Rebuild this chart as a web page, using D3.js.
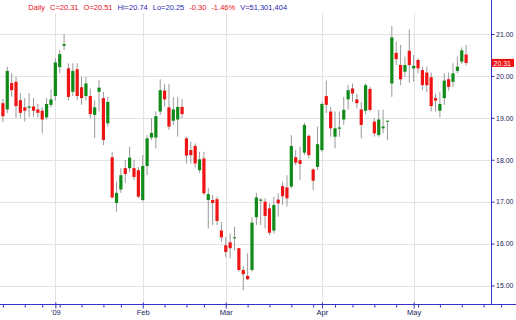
<!DOCTYPE html>
<html>
<head>
<meta charset="utf-8">
<script src="https://cdn.jsdelivr.net/npm/d3@7"></script>
<style>
  html, body { margin: 0; padding: 0; background: #fff; }
  svg { display: block; font-family: "Liberation Sans", Arial, sans-serif; }
</style>
</head>
<body>
<svg id="chart" width="516" height="320"></svg>
<script>
// daily bars, 15 Dec 2008 .. 19 May 2009
const OPEN = [19.35, 19.20, 19.83, 19.86, 19.42, 19.25, 19.24, 19.27, 19.20, 19.17,
  19.01, 19.31, 19.52, 20.21, 20.72, 20.18, 19.62, 20.16, 19.73, 19.52,
  19.52, 19.07, 19.62, 19.47, 18.87, 18.06, 16.97, 17.29, 17.80, 17.80,
  17.80, 17.75, 17.04, 17.85, 18.53, 18.53, 19.15, 19.65, 19.25, 18.93,
  18.96, 19.26, 18.51, 18.23, 18.33, 17.75, 18.03, 17.04, 17.04, 17.06,
  16.31, 15.96, 16.03, 16.13, 15.89, 15.37, 15.23, 15.37, 16.63, 17.02,
  17.00, 16.84, 16.31, 17.05, 17.37, 17.34, 17.36, 18.06, 17.99, 18.17,
  18.57, 17.77, 17.83, 18.23, 19.52, 19.15, 18.55, 18.74, 18.96, 19.44,
  19.70, 19.44, 19.20, 19.17, 19.69, 18.91, 18.59, 18.75, 18.91, 19.82,
  20.55, 20.26, 20.10, 20.60, 20.18, 20.38, 20.14, 20.08, 19.97, 19.47,
  19.17, 19.47, 19.92, 19.86, 20.12, 20.34, 20.51]
const HIGH = [19.45, 20.22, 20.07, 19.98, 19.59, 19.47, 19.59, 19.47, 19.33, 19.25,
  19.47, 19.68, 20.42, 20.62, 21.00, 20.30, 20.30, 20.30, 19.98, 19.98,
  19.70, 19.42, 19.90, 19.62, 19.50, 18.19, 17.48, 17.80, 17.99, 18.31,
  17.99, 17.83, 18.11, 18.59, 18.99, 19.15, 19.92, 19.81, 19.81, 19.50,
  19.50, 19.44, 18.55, 18.43, 18.39, 18.19, 18.19, 17.32, 17.16, 17.12,
  16.52, 16.16, 16.24, 16.40, 15.89, 15.46, 15.77, 16.63, 17.21, 17.08,
  17.08, 16.96, 17.12, 17.20, 17.47, 17.63, 18.59, 18.23, 18.31, 18.88,
  18.61, 17.79, 18.79, 19.38, 19.89, 19.26, 19.15, 19.15, 19.50, 19.78,
  19.82, 19.57, 19.38, 19.82, 19.74, 18.99, 19.19, 19.20, 18.93, 21.19,
  20.82, 20.74, 20.46, 21.11, 20.50, 20.42, 20.22, 20.22, 20.08, 19.58,
  19.62, 20.06, 20.08, 20.30, 20.46, 20.68, 20.74]
const LOW = [18.90, 19.11, 19.50, 19.00, 19.00, 18.91, 19.02, 19.03, 19.01, 18.63,
  18.96, 19.25, 19.41, 20.06, 20.62, 19.41, 19.52, 19.42, 19.31, 19.42,
  18.99, 18.52, 19.15, 18.35, 18.79, 17.08, 16.76, 17.21, 17.44, 17.71,
  17.51, 17.08, 17.00, 17.63, 18.47, 18.27, 19.07, 19.26, 18.71, 18.83,
  18.55, 18.99, 17.91, 17.91, 17.82, 17.69, 17.16, 16.36, 16.44, 16.44,
  16.04, 15.68, 15.65, 15.84, 15.33, 14.89, 15.13, 15.33, 16.44, 16.44,
  16.36, 16.20, 16.24, 16.64, 16.92, 16.88, 17.32, 17.87, 17.52, 18.11,
  18.03, 17.28, 17.75, 18.19, 19.11, 18.55, 18.27, 18.55, 18.83, 19.20,
  19.38, 19.23, 18.51, 19.09, 19.15, 18.55, 18.55, 18.63, 18.47, 19.50,
  20.26, 19.78, 19.98, 19.84, 19.86, 20.06, 19.66, 19.62, 19.15, 19.15,
  19.01, 19.31, 19.65, 19.74, 20.06, 20.28, 20.25]
const CLOSE = [19.04, 20.12, 19.66, 19.28, 19.12, 19.17, 19.27, 19.17, 19.12, 18.96,
  19.33, 19.44, 20.32, 20.52, 20.76, 19.50, 20.12, 19.52, 19.47, 19.82,
  19.09, 19.25, 19.72, 18.47, 19.38, 17.10, 17.21, 17.63, 17.66, 18.05,
  17.59, 17.12, 17.85, 18.51, 18.64, 19.04, 19.66, 19.44, 18.79, 19.20,
  19.26, 19.09, 18.10, 18.11, 17.91, 18.01, 17.20, 17.18, 16.97, 16.54,
  16.15, 15.80, 15.89, 16.15, 15.37, 15.27, 15.15, 16.50, 17.10, 17.05,
  16.66, 16.26, 16.92, 16.96, 17.13, 17.08, 18.33, 17.93, 17.90, 18.83,
  18.11, 17.50, 18.37, 19.33, 19.31, 18.75, 18.75, 18.77, 19.19, 19.66,
  19.58, 19.35, 18.83, 19.78, 19.19, 18.63, 18.96, 18.79, 18.93, 20.92,
  20.40, 19.92, 20.26, 20.26, 20.24, 20.18, 19.78, 19.78, 19.28, 19.41,
  19.33, 19.89, 19.74, 20.06, 20.22, 20.61, 20.31]

const PRICE_TICKS = [15, 16, 17, 18, 19, 20, 21]
const MONTH_LABELS = ["'09", 'Feb', 'Mar', 'Apr', 'May']
const HOLIDAYS = ['2008-12-25', '2009-01-01', '2009-01-19', '2009-02-16', '2009-04-10', '2009-05-25']
const HEADER = [
  { text: 'Daily', color: '#e8101a' },
  { text: 'C=20.31', color: '#e8101a' },
  { text: 'O=20.51', color: '#e8101a' },
  { text: 'Hi=20.74', color: '#2a2ab0' },
  { text: 'Lo=20.25', color: '#2a2ab0' },
  { text: '-0.30', color: '#e8101a' },
  { text: '-1.46%', color: '#e8101a' },
  { text: 'V=51,301,404', color: '#2a2ab0' }
]

const W = 516
const AXIS_X = 491
const AXIS_Y = 304
const STEP = 4.37
const BLUE = '#3434c4'
const UP = '#108a18'
const DOWN = '#ee1414'

// trading days on the x axis (weekends and market holidays left out), incl. a few future days
const fmt = d3.timeFormat('%Y-%m-%d')
const days = d3.timeDay
  .range(new Date(2008, 11, 15), new Date(2009, 5, 4))
  .filter(d => d.getDay() !== 0 && d.getDay() !== 6 && !HOLIDAYS.includes(fmt(d)))
const dayKeys = days.map(fmt)

const bars = CLOSE.map((c, i) => ({
  key: dayKeys[i], open: OPEN[i], high: HIGH[i], low: LOW[i], close: c
}))

const x = d3.scalePoint()
  .domain(dayKeys)
  .range([2.9, 2.9 + (dayKeys.length - 1) * STEP])

const y = d3.scaleLinear()
  .domain([15, 21])
  .range([285.5, 34])

// first trading day of every week / month
const weekTicks = days.filter((d, i) => i === 0 || d3.timeMonday.floor(d) > days[i - 1])
const monthTicks = days.filter((d, i) => i > 0 && d.getMonth() !== days[i - 1].getMonth())
const tickDays = Array.from(new Set(weekTicks.concat(monthTicks).map(fmt)))
const monthKeys = monthTicks.map(fmt).slice(0, MONTH_LABELS.length)

const svg = d3.select('#chart')

// grid
svg.append('g')
  .selectAll('line')
  .data(PRICE_TICKS)
  .join('line')
  .attr('x1', 0)
  .attr('x2', AXIS_X)
  .attr('y1', d => Math.round(y(d)) + 0.5)
  .attr('y2', d => Math.round(y(d)) + 0.5)
  .attr('stroke', '#e2e2e2')

svg.append('g')
  .selectAll('line')
  .data(monthKeys)
  .join('line')
  .attr('x1', d => Math.round(x(d)) + 0.5)
  .attr('x2', d => Math.round(x(d)) + 0.5)
  .attr('y1', 13)
  .attr('y2', AXIS_Y)
  .attr('stroke', '#e2e2e2')

// candles
const candle = svg.append('g')
  .selectAll('g')
  .data(bars)
  .join('g')

candle.append('line')
  .attr('x1', d => x(d.key))
  .attr('x2', d => x(d.key))
  .attr('y1', d => y(d.high))
  .attr('y2', d => y(d.low))
  .attr('stroke', '#9a9a9a')
  .attr('stroke-width', 1)

candle.append('rect')
  .attr('x', d => x(d.key) - 1.6)
  .attr('width', 3.2)
  .attr('y', d => y(Math.max(d.open, d.close)))
  .attr('height', d => Math.max(1, Math.abs(y(d.open) - y(d.close))))
  .attr('fill', d => d.close >= d.open ? UP : DOWN)

// right price axis
const yAxis = svg.append('g')
  .attr('transform', `translate(${AXIS_X + 0.5},0)`)
  .call(d3.axisRight(y).tickValues(PRICE_TICKS).tickFormat(d3.format('.2f')).tickSize(3).tickPadding(1.5))

yAxis.select('.domain').remove()
yAxis.selectAll('.tick line').attr('stroke', BLUE)
yAxis.selectAll('.tick text')
  .attr('fill', '#22225a')
  .style('font-size', '7px')
  .attr('font-family', null)

svg.append('line')
  .attr('x1', AXIS_X + 0.5)
  .attr('x2', AXIS_X + 0.5)
  .attr('y1', 0)
  .attr('y2', AXIS_Y)
  .attr('stroke', BLUE)

// bottom date axis
const xAxis = svg.append('g')
  .attr('transform', `translate(0,${AXIS_Y + 0.5})`)
  .call(d3.axisBottom(x)
    .tickValues(tickDays)
    .tickSize(3)
    .tickPadding(2)
    .tickFormat(k => {
      const i = monthKeys.indexOf(k)
      return i < 0 ? '' : MONTH_LABELS[i]
    }))

xAxis.select('.domain').remove()
xAxis.selectAll('.tick line').attr('stroke', BLUE)
xAxis.selectAll('.tick')
  .filter(k => monthKeys.includes(k))
  .select('line')
  .attr('y1', -2)
  .attr('y2', 4)
xAxis.selectAll('.tick text')
  .attr('fill', '#22225a')
  .style('font-size', '7.5px')
  .attr('font-family', null)

svg.append('line')
  .attr('x1', 0)
  .attr('x2', W)
  .attr('y1', AXIS_Y + 0.5)
  .attr('y2', AXIS_Y + 0.5)
  .attr('stroke', BLUE)

// last price tag
const last = bars[bars.length - 1]
svg.append('rect')
  .attr('x', AXIS_X + 0.5)
  .attr('y', y(last.close) - 4)
  .attr('width', 22.5)
  .attr('height', 8)
  .attr('fill', '#ee1111')
svg.append('text')
  .attr('x', AXIS_X + 2.5)
  .attr('y', y(last.close) + 2.6)
  .attr('fill', '#fff')
  .style('font-size', '7px')
  .text(d3.format('.2f')(last.close))

// header
svg.append('rect')
  .attr('x', 0).attr('y', 0)
  .attr('width', AXIS_X).attr('height', 12)
  .attr('fill', '#fff')

let hx = 28.3
HEADER.forEach(h => {
  const t = svg.append('text')
    .attr('x', hx)
    .attr('y', 10.3)
    .attr('fill', h.color)
    .style('font-size', '7.5px')
    .text(h.text)
  hx += t.node().getComputedTextLength() + 5
})
</script>
</body>
</html>
